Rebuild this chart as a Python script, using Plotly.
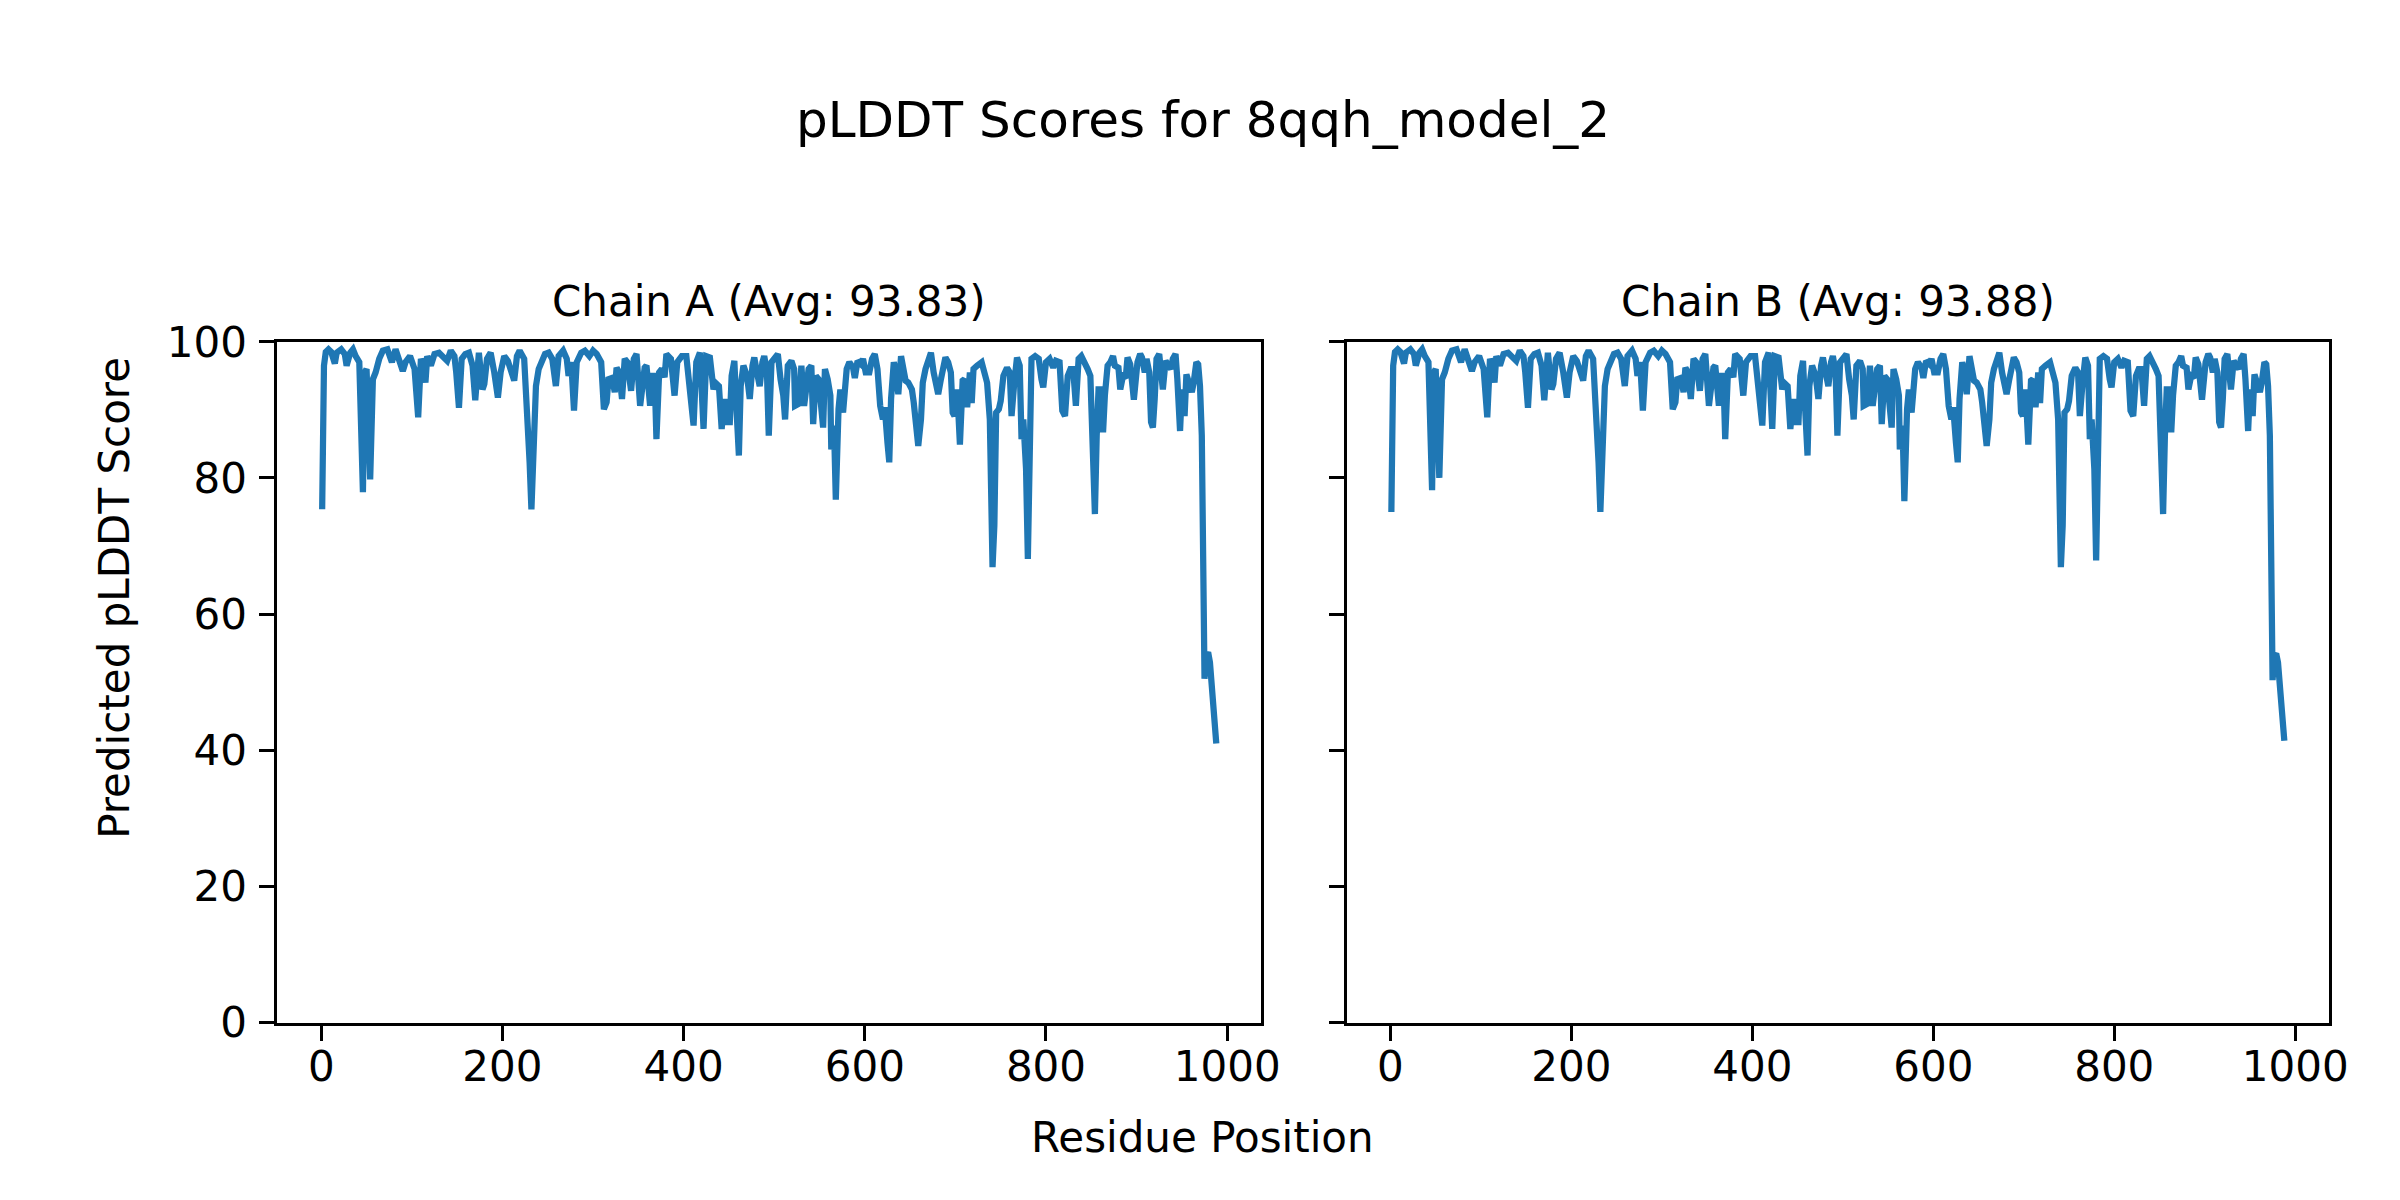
import plotly.graph_objects as go

# ---------------- data ----------------
residues = [1, 2, 3, 5, 8, 11, 15, 17, 22, 26, 28, 32, 35, 38, 42, 46, 48, 50, 54, 57,
            60, 64, 68, 73, 78, 82, 85, 90, 93, 98, 103, 107, 110, 113, 115, 117, 121, 125, 130, 136,
            139, 143, 147, 149, 152, 155, 159, 163, 167, 170, 174, 178, 180, 183, 187, 191, 195, 198, 202, 206,
            209, 213, 216, 219, 224, 227, 230, 232, 235, 237, 240, 244, 247, 251, 255, 259, 262, 267, 271, 273,
            276, 279, 282, 287, 291, 296, 300, 304, 309, 312, 315, 317, 321, 324, 326, 329, 332, 335, 338, 342,
            345, 348, 352, 357, 359, 363, 365, 368, 370, 373, 376, 379, 381, 386, 390, 393, 398, 403, 407, 411,
            414, 418, 422, 425, 429, 433, 435, 439, 442, 445, 448, 451, 453, 456, 458, 461, 463, 466, 470, 473,
            476, 478, 481, 484, 487, 489, 492, 494, 497, 500, 504, 507, 510, 512, 515, 519, 522, 523, 527, 530,
            533, 538, 541, 543, 546, 549, 552, 554, 556, 559, 562, 563, 566, 568, 571, 573, 576, 578, 580, 583,
            587, 589, 592, 596, 598, 601, 605, 608, 611, 614, 617, 620, 622, 625, 627, 629, 632, 634, 637, 640,
            643, 645, 648, 652, 654, 657, 659, 662, 664, 667, 670, 673, 676, 678, 681, 684, 687, 689, 692, 695,
            697, 699, 702, 705, 708, 710, 713, 716, 718, 720, 724, 729, 732, 735, 738, 739, 741, 743, 745, 748,
            750, 753, 757, 760, 762, 765, 768, 771, 773, 775, 778, 780, 782, 784, 788, 792, 795, 797, 800, 804,
            808, 811, 815, 818, 821, 824, 827, 830, 833, 836, 839, 843, 846, 849, 851, 852, 854, 856, 858, 860,
            863, 865, 868, 871, 874, 876, 880, 882, 885, 888, 890, 893, 897, 901, 904, 906, 909, 911, 914, 916,
            918, 920, 922, 925, 928, 929, 932, 935, 938, 940, 943, 945, 948, 950, 953, 955, 958, 961, 963, 966,
            968, 970, 972, 973, 975, 977, 979, 981, 983, 986, 988]

chain_a_scores = [75.4, 90.0, 96.5, 98.5, 98.9, 98.5, 96.8, 98.4, 98.9, 98.2, 96.5, 98.4, 98.9, 97.9, 97.0, 77.9, 95.5, 96.0, 79.8, 94.5,
                  95.5, 97.5, 98.7, 98.9, 97.0, 98.9, 97.9, 95.7, 97.0, 97.9, 96.0, 88.9, 97.5, 96.5, 94.0, 97.9, 96.5, 98.2, 98.4, 97.5,
                  97.2, 98.7, 97.9, 95.5, 90.3, 97.5, 98.2, 98.4, 96.5, 91.4, 98.4, 93.0, 93.8, 97.5, 98.4, 95.5, 91.8, 95.5, 97.9, 97.2,
                  96.2, 94.3, 97.9, 98.7, 97.5, 91.1, 82.3, 75.4, 91.1, 93.5, 96.0, 97.0, 98.2, 98.4, 97.5, 93.5, 97.9, 98.7, 97.5, 95.0,
                  97.0, 89.9, 97.0, 98.4, 98.7, 97.9, 98.7, 98.2, 97.0, 90.1, 91.1, 94.5, 94.7, 92.6, 96.2, 95.5, 91.6, 97.5, 97.0, 92.8,
                  97.5, 98.2, 90.6, 96.2, 96.5, 90.6, 95.0, 95.0, 85.7, 95.5, 96.0, 94.8, 98.2, 97.5, 92.1, 97.0, 97.9, 97.9, 93.5, 87.7,
                  97.0, 98.4, 87.2, 97.9, 97.7, 93.0, 94.0, 93.5, 87.2, 91.6, 88.2, 88.2, 95.0, 97.2, 91.1, 83.3, 93.5, 96.5, 95.0, 91.6,
                  96.5, 97.7, 95.5, 93.5, 97.0, 97.9, 95.5, 86.2, 97.0, 97.5, 98.2, 94.5, 92.1, 88.6, 96.5, 97.2, 96.0, 90.6, 90.9, 96.5,
                  90.6, 96.0, 96.5, 87.9, 95.0, 94.5, 91.1, 87.4, 96.0, 94.5, 92.1, 84.2, 87.7, 76.8, 90.1, 93.0, 89.6, 93.5, 96.0, 97.0,
                  96.2, 94.7, 97.2, 96.7, 97.5, 95.5, 95.5, 97.5, 98.2, 96.0, 90.6, 88.6, 90.4, 85.2, 82.3, 91.6, 97.0, 96.0, 92.3, 97.9,
                  95.5, 94.3, 94.0, 93.0, 91.1, 86.7, 84.7, 88.6, 94.0, 96.0, 97.7, 98.4, 95.5, 94.5, 92.3, 94.5, 97.0, 97.7, 97.0, 95.5,
                  89.6, 89.1, 93.0, 84.9, 94.3, 94.5, 90.4, 95.5, 91.0, 96.0, 96.5, 97.0, 95.5, 94.0, 88.6, 75.5, 66.9, 73.0, 89.6, 90.1,
                  91.3, 95.0, 96.2, 95.5, 89.1, 94.0, 97.7, 96.5, 85.7, 88.6, 81.3, 68.1, 86.2, 97.5, 97.9, 97.5, 94.5, 93.3, 97.0, 97.5,
                  96.2, 97.2, 97.0, 89.9, 89.1, 95.0, 96.0, 96.0, 90.6, 97.5, 97.9, 97.0, 96.0, 95.0, 87.7, 80.3, 74.7, 86.2, 93.0, 93.0,
                  86.7, 92.1, 96.5, 97.0, 97.9, 96.5, 96.2, 93.0, 95.0, 94.7, 97.7, 96.7, 91.5, 97.0, 98.2, 97.7, 95.5, 97.5, 95.5, 88.2,
                  87.4, 91.6, 97.5, 98.2, 95.0, 93.0, 97.2, 96.7, 96.0, 97.5, 98.2, 94.5, 86.9, 93.0, 89.1, 95.2, 93.5, 92.6, 94.0, 97.0,
                  96.7, 93.5, 86.2, 71.5, 50.5, 53.9, 54.4, 52.9, 49.0, 46.0, 41.0]

chain_b_scores = [75.0, 90.0, 96.5, 98.5, 98.9, 98.5, 96.8, 98.4, 98.9, 98.2, 96.5, 98.4, 98.9, 97.9, 97.0, 78.2, 95.5, 96.0, 80.0, 94.5,
                  95.5, 97.5, 98.7, 98.9, 97.0, 98.9, 97.9, 95.7, 97.0, 97.9, 96.0, 88.9, 97.5, 96.5, 94.0, 97.9, 96.5, 98.2, 98.4, 97.5,
                  97.2, 98.7, 97.9, 95.5, 90.3, 97.5, 98.2, 98.4, 96.5, 91.4, 98.4, 93.0, 93.8, 97.5, 98.4, 95.5, 91.8, 95.5, 97.9, 97.2,
                  96.2, 94.3, 97.9, 98.7, 97.5, 91.1, 82.3, 75.0, 91.1, 93.5, 96.0, 97.0, 98.2, 98.4, 97.5, 93.5, 97.9, 98.7, 97.5, 95.0,
                  97.0, 89.9, 97.0, 98.4, 98.7, 97.9, 98.7, 98.2, 97.0, 90.1, 91.1, 94.5, 94.7, 92.6, 96.2, 95.5, 91.6, 97.5, 97.0, 92.8,
                  97.5, 98.2, 90.6, 96.2, 96.5, 90.6, 95.0, 95.0, 85.7, 95.5, 96.0, 94.8, 98.2, 97.5, 92.1, 97.0, 97.9, 97.9, 93.5, 87.7,
                  97.0, 98.4, 87.2, 97.9, 97.7, 93.0, 94.0, 93.5, 87.2, 91.6, 88.2, 88.2, 95.0, 97.2, 91.1, 83.3, 93.5, 96.5, 95.0, 91.6,
                  96.5, 97.7, 95.5, 93.5, 97.0, 97.9, 95.5, 86.2, 97.0, 97.5, 98.2, 94.5, 92.1, 88.6, 96.5, 97.2, 96.0, 90.6, 90.9, 96.5,
                  90.6, 96.0, 96.5, 87.9, 95.0, 94.5, 91.1, 87.4, 96.0, 94.5, 92.1, 84.2, 87.7, 76.6, 90.1, 93.0, 89.6, 93.5, 96.0, 97.0,
                  96.2, 94.7, 97.2, 96.7, 97.5, 95.5, 95.5, 97.5, 98.2, 96.0, 90.6, 88.6, 90.4, 85.2, 82.3, 91.6, 97.0, 96.0, 92.3, 97.9,
                  95.5, 94.3, 94.0, 93.0, 91.1, 86.7, 84.7, 88.6, 94.0, 96.0, 97.7, 98.4, 95.5, 94.5, 92.3, 94.5, 97.0, 97.7, 97.0, 95.5,
                  89.6, 89.1, 93.0, 84.9, 94.3, 94.5, 90.4, 95.5, 91.0, 96.0, 96.5, 97.0, 95.5, 94.0, 88.6, 75.5, 66.9, 73.0, 89.6, 90.1,
                  91.3, 95.0, 96.2, 95.5, 89.1, 94.0, 97.7, 96.5, 85.7, 88.6, 81.3, 67.9, 86.2, 97.5, 97.9, 97.5, 94.5, 93.3, 97.0, 97.5,
                  96.2, 97.2, 97.0, 89.9, 89.1, 95.0, 96.0, 96.0, 90.6, 97.5, 97.9, 97.0, 96.0, 95.0, 87.7, 80.3, 74.7, 86.2, 93.0, 93.0,
                  86.7, 92.1, 96.5, 97.0, 97.9, 96.5, 96.2, 93.0, 95.0, 94.7, 97.7, 96.7, 91.5, 97.0, 98.2, 97.7, 95.5, 97.5, 95.5, 88.2,
                  87.4, 91.6, 97.5, 98.2, 95.0, 93.0, 97.2, 96.7, 96.0, 97.5, 98.2, 94.5, 86.9, 93.0, 89.1, 95.2, 93.5, 92.6, 94.0, 97.0,
                  96.7, 93.5, 86.2, 71.5, 50.3, 53.9, 54.2, 52.9, 49.0, 46.0, 41.4]

chain_titles = ["Chain A (Avg: 93.83)", "Chain B (Avg: 93.88)"]
main_title = "pLDDT Scores for 8qqh_model_2"
x_label = "Residue Position"
y_label = "Predicted pLDDT Score"
x_ticks = [0, 200, 400, 600, 800, 1000]
y_ticks = [0, 20, 40, 60, 80, 100]

# ---------------- figure ----------------
W, H = 2400, 1200
FONT = "DejaVu Sans"
LINE_BLUE = "#1f77b4"
AX_LW = 3.3

span = residues[-1] - residues[0]
x_range = [residues[0] - 0.05 * span, residues[-1] + 0.05 * span]

fig = go.Figure()
fig.add_trace(go.Scatter(x=residues, y=chain_a_scores, mode="lines",
                         line=dict(color=LINE_BLUE, width=6.25),
                         xaxis="x", yaxis="y", showlegend=False))
fig.add_trace(go.Scatter(x=residues, y=chain_b_scores, mode="lines",
                         line=dict(color=LINE_BLUE, width=6.25),
                         xaxis="x2", yaxis="y2", showlegend=False))

# layout positions (pixel positions on a 2400x1200 canvas, calibrated)
dom_left = [271.6 / W, 1263.0 / W]
dom_right = [1349.4 / W, 2339.5 / W]
dom_y = [1 - 1032.7 / H, 1 - 323.0 / H]

common_x = dict(range=x_range, tickmode="array", tickvals=x_ticks,
                ticks="outside", ticklen=15, tickwidth=AX_LW, tickcolor="black",
                showline=True, linecolor="black", linewidth=AX_LW, mirror=True,
                showgrid=False, zeroline=False, ticklabelstandoff=-10,
                tickfont=dict(family=FONT, size=42, color="black"))
common_y = dict(range=[0, 100], tickmode="array", tickvals=y_ticks,
                ticks="outside", ticklen=15, tickwidth=AX_LW, tickcolor="black",
                showline=True, linecolor="black", linewidth=AX_LW, mirror=True,
                showgrid=False, zeroline=False, ticklabelstandoff=4,
                tickfont=dict(family=FONT, size=42, color="black"))

fig.update_layout(
    width=W, height=H,
    margin=dict(l=0, r=0, t=0, b=0),
    paper_bgcolor="white", plot_bgcolor="white",
    font=dict(family=FONT, color="black"),
    xaxis=dict(domain=dom_left, anchor="y", **common_x),
    yaxis=dict(domain=dom_y, anchor="x", **common_y),
    xaxis2=dict(domain=dom_right, anchor="y2", **common_x),
    yaxis2=dict(domain=dom_y, anchor="x2", matches="y", showticklabels=False,
                **{k: v for k, v in common_y.items() if k not in ("tickfont", "ticklabelstandoff")}),
)

annotations = [
    dict(text=main_title, x=1204.6 / W, y=1 - 91.7 / H, xref="paper", yref="paper",
         xanchor="center", yanchor="middle", showarrow=False,
         font=dict(family=FONT, size=50, color="black")),
    dict(text=chain_titles[0], x=sum(dom_left) / 2, y=1 - 281.4 / H, xref="paper", yref="paper",
         xanchor="center", yanchor="middle", showarrow=False,
         font=dict(family=FONT, size=42, color="black")),
    dict(text=chain_titles[1], x=sum(dom_right) / 2, y=1 - 281.4 / H, xref="paper", yref="paper",
         xanchor="center", yanchor="middle", showarrow=False,
         font=dict(family=FONT, size=42, color="black")),
    dict(text=x_label, x=1203.6 / W, y=1 - 1152.6 / H, xref="paper", yref="paper",
         xanchor="center", yanchor="middle", showarrow=False,
         font=dict(family=FONT, size=42, color="black")),
    dict(text=y_label, x=108.0 / W, y=1 - 589.8 / H, xref="paper", yref="paper",
         xanchor="center", yanchor="middle", showarrow=False, textangle=-90,
         font=dict(family=FONT, size=42, color="black")),
]
fig.update_layout(annotations=annotations)

fig.write_html("out.html")
